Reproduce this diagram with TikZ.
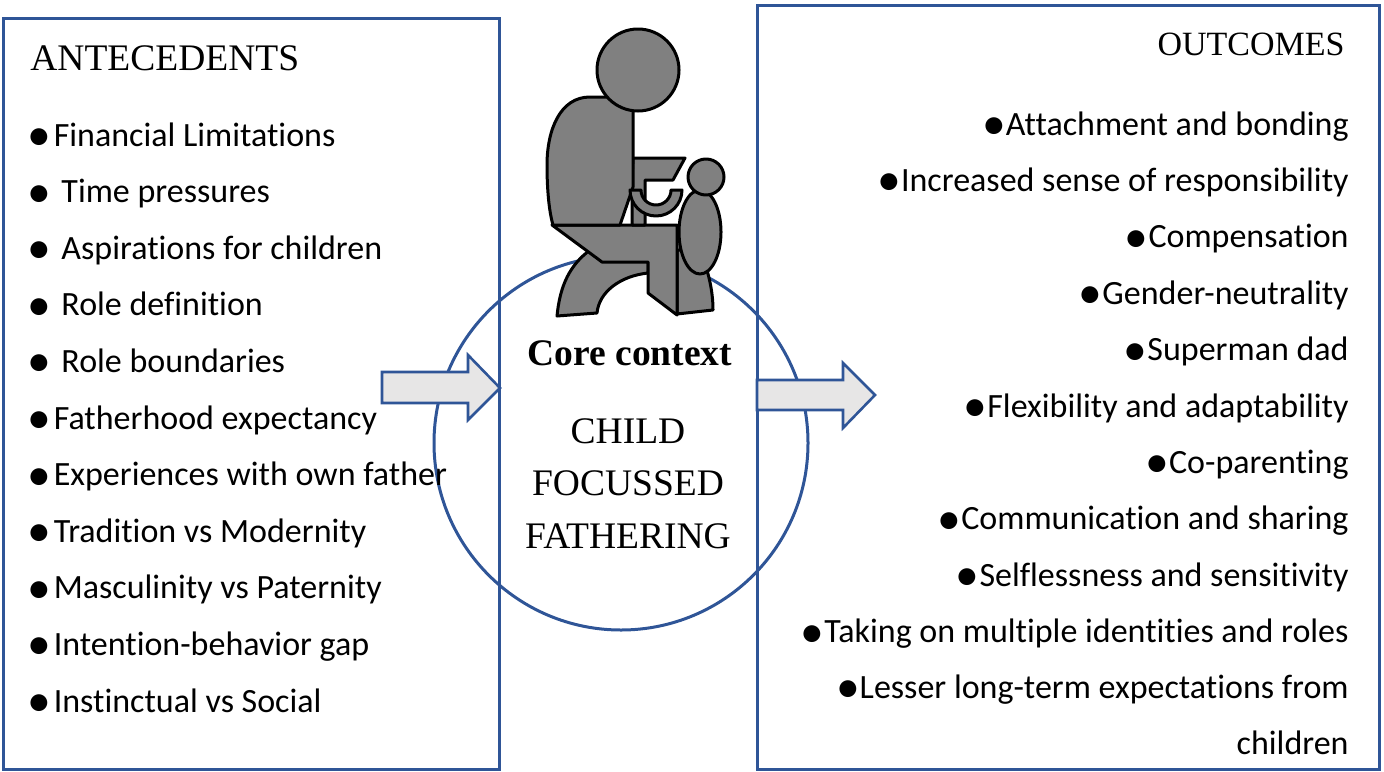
\documentclass[tikz,border=0pt]{standalone}
\usepackage{graphicx}
\usepackage{fontspec}
\setmainfont{Liberation Serif}
\newfontfamily\itemfont[Ligatures=NoCommon]{Carlito}
\newcommand\dotmark{\raisebox{-0.13em}{\scalebox{1.4}{\textbullet}}}
\definecolor{frameblue}{RGB}{47,85,151}
\definecolor{arrowgray}{RGB}{231,230,230}
\definecolor{figgray}{RGB}{128,128,128}
\tikzset{
  panel/.style={draw=frameblue, line width=1.4pt, inner sep=0pt, anchor=north west},
  ring/.style={draw=frameblue, line width=1.5pt, circle, inner sep=0pt},
  blockarrow/.style={draw=frameblue, fill=arrowgray, line width=1.3pt, line join=miter},
  figpart/.style={draw=black, fill=figgray, line width=1.5pt, line join=round},
  leftitem/.style={anchor=base west, inner sep=0pt, font=\itemfont\fontsize{17}{28}\selectfont},
  rightitem/.style={anchor=base east, inner sep=0pt, align=right, font=\itemfont\fontsize{17}{28}\selectfont},
  heading/.style={inner sep=0pt, font=\fontsize{#1}{26.25}\selectfont}
}
\begin{document}
\begin{tikzpicture}[x=0.5pt,y=-0.5pt]
\useasboundingbox (0,0) rectangle (1384,771);
\node[panel, minimum width=248pt, minimum height=375.5pt] (ante) at (2,17) {};
\node[panel, minimum width=311pt, minimum height=382pt] (outc) at (756,4) {};
\node[ring, minimum size=187pt] (ctx) at (621,443) {};

\draw[blockarrow] (382,372) -- (468,372) -- (468,355) -- (500,388) -- (468,420) -- (468,403) -- (382,403) -- cycle;
\draw[blockarrow] (757,380) -- (843,380) -- (843,363) -- (875,395) -- (843,428) -- (843,410) -- (757,410) -- cycle;

\draw[figpart] (677,250) -- (700,250) .. controls (708,270) and (713,290) .. (713,310) -- (677,314) -- cycle;
\draw[figpart] (557,316) .. controls (560,285) and (570,265) .. (590,250) -- (648,250) -- (648,273) .. controls (620,276) and (599,292) .. (597,313) -- cycle;
\draw[figpart] (552,225) -- (677,225) -- (677,315) -- (648,293) -- (648,262) -- (602,262) -- cycle;
\draw[figpart] (633,158) -- (685,158) -- (673,180) -- (645,180) -- (645,225) -- (632,225) -- (632,180) -- cycle;
\draw[figpart] (633,97) -- (590,97) .. controls (560,97) and (547,130) .. (547,165) .. controls (547,195) and (550,215) .. (553,225) -- (620,225) -- (633,187) -- cycle;
\draw[figpart] (630,190) arc (180:0:26) -- (671,190) arc (0:180:15) -- cycle;
\draw[figpart] (700,232) ellipse (21 and 42);
\draw[figpart] (706,177) circle (18);
\draw[figpart] (638,70) circle (41);

\node[heading=18.75, anchor=base west] (antetitle) at (30,70) {ANTECEDENTS};
\node[heading=17, anchor=base east] (outctitle) at (1345,55) {OUTCOMES};
\node[heading=18.75, anchor=base] (core) at (630,365) {\bfseries Core context};
\node[heading=18.75, anchor=base, align=center] (cff) at (628,548) {CHILD\\FOCUSSED\\FATHERING};

\foreach [count=\i] \txt in {Financial Limitations, \ Time pressures, \ Aspirations for children, \ Role definition, \ Role boundaries, Fatherhood expectancy, Experiences with own father, Tradition vs Modernity, Masculinity vs Paternity, Intention-behavior gap, Instinctual vs Social}
  \node[leftitem] (ante\i) at (27,{146+56.6*(\i-1)}) {\dotmark\hspace{-2.5pt}\ \txt};

\foreach [count=\i] \txt in {Attachment and bonding, Increased sense of responsibility, Compensation, Gender-neutrality, Superman dad, Flexibility and adaptability, Co-parenting, Communication and sharing, Selflessness and sensitivity, Taking on multiple identities and roles}
  \node[rightitem] (outc\i) at (1349,{135+56.4*(\i-1)}) {\dotmark\txt};
\node[rightitem] (outc11) at (1349,754) {\dotmark Lesser long-term expectations from\\children};
\end{tikzpicture}
\end{document}
